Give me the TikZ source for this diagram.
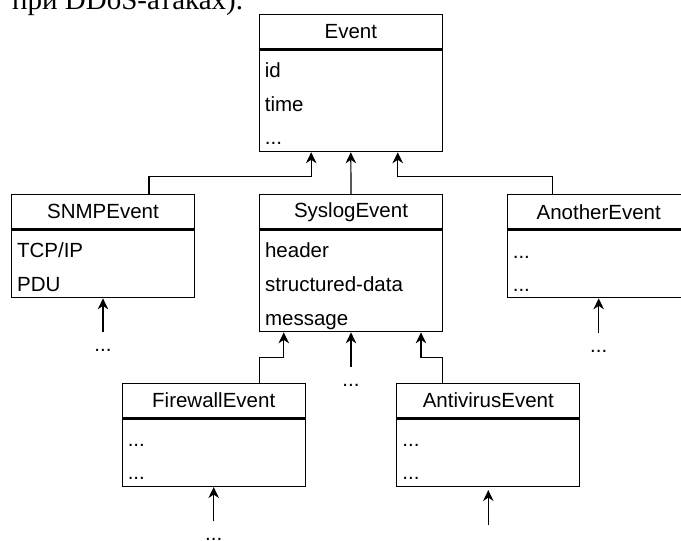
\documentclass[tikz,border=0pt]{standalone}
\usepackage{fontspec}
\setmainfont{Liberation Sans}
\newfontfamily\introfont{Liberation Serif}
\usetikzlibrary{arrows.meta, calc}

\tikzset{
  head/.style={draw, line width=1.2pt, minimum width=183pt, minimum height=34.5pt, inner sep=0pt, font=\fontsize{20.5}{24}\selectfont},
  body/.style={draw, line width=1.2pt, minimum width=183pt, inner sep=0pt, anchor=north},
  row/.style={anchor=base west, inner sep=0pt, font=\fontsize{20.5}{24}\selectfont},
  more/.style={anchor=base, inner sep=0pt, text height=19pt, text depth=0pt, font=\fontsize{20.5}{24}\selectfont},
  inh/.style={line width=1.2pt, -{Stealth[length=11pt, width=10.5pt, inset=3.5pt]}},
}

\begin{document}
\begin{tikzpicture}[x=1pt, y=-1pt]
  \useasboundingbox (0,0) rectangle (681,541);

  \node[anchor=base west, inner sep=0pt, font=\introfont\fontsize{29}{30}\selectfont] (intro) at (12,9) {при DDoS-атаках).};

  % base class
  \node[head] (evh) at (350.8,31.7) {Event};
  \node[body, minimum height=101.5pt] (evb) at (evh.south) {};
  \node[row] (ev1) at ($(evb.north west)+(6,28)$) {id};
  \node[row] (ev2) at ($(evb.north west)+(6,61.5)$) {time};
  \node[row] (ev3) at ($(evb.north west)+(6,95)$) {...};

  % second level
  \node[head] (snh) at (103,211.8) {SNMPEvent};
  \node[body, minimum height=67.5pt] (snb) at (snh.south) {};
  \node[row] (sn1) at ($(snb.north west)+(6,27.5)$) {TCP/IP};
  \node[row] (sn2) at ($(snb.north west)+(6,61.5)$) {PDU};

  \node[head] (syh) at (351,211.8) {SyslogEvent};
  \node[body, minimum height=101.5pt] (syb) at (syh.south) {};
  \node[row] (sy1) at ($(syb.north west)+(6,27.5)$) {header};
  \node[row] (sy2) at ($(syb.north west)+(6,61.5)$) {structured-data};
  \node[row] (sy3) at ($(syb.north west)+(6,95.5)$) {message};

  \node[head] (anh) at (598.7,211.8) {AnotherEvent};
  \node[body, minimum height=67.5pt] (anb) at (anh.south) {};
  \node[row] (an1) at ($(anb.north west)+(6,28.5)$) {...};
  \node[row] (an2) at ($(anb.north west)+(6,62)$) {...};

  % third level
  \node[head] (fwh) at (213.7,400.5) {FirewallEvent};
  \node[body, minimum height=67.5pt] (fwb) at (fwh.south) {};
  \node[row] (fw1) at ($(fwb.north west)+(6,28)$) {...};
  \node[row] (fw2) at ($(fwb.north west)+(6,61.5)$) {...};

  \node[head] (avh) at (488.3,400.5) {AntivirusEvent};
  \node[body, minimum height=67.5pt] (avb) at (avh.south) {};
  \node[row] (av1) at ($(avb.north west)+(6,28)$) {...};
  \node[row] (av2) at ($(avb.north west)+(6,61.5)$) {...};

  % further subclasses
  \node[more] (snx) at (103,351.5) {...};
  \node[more] (syx) at (351,386.5) {...};
  \node[more] (anx) at (598.7,352) {...};
  \node[more] (fwx) at (213.7,540.5) {...};
  \node[more] (avx) at (488.3,544) {...};

  \draw[inh] ($(snh.north west)!.75!(snh.north east)$) -- ++(0,-17.85) -| ($(evb.south west)!.285!(evb.south east)$);
  \draw[inh] (syh.north) -- (evb.south);
  \draw[inh] ($(anh.north west)!.25!(anh.north east)$) -- ++(0,-17.85) -| ($(evb.south west)!.755!(evb.south east)$);
  \draw[inh] ($(fwh.north west)!.75!(fwh.north east)$) -- ++(0,-25.55) -| ($(syb.south west)!.135!(syb.south east)$);
  \draw[inh] ($(avh.north west)!.25!(avh.north east)$) -- ++(0,-25.55) -| ($(syb.south west)!.88!(syb.south east)$);

  \draw[inh] (snx.north) -- (snb.south);
  \draw[inh] (syx.north) -- (syb.south);
  \draw[inh] (anx.north) -- (anb.south);
  \draw[inh] (fwx.north) -- (fwb.south);
  \draw[inh, shorten >=3pt] (avx.north) -- (avb.south);
\end{tikzpicture}
\end{document}
